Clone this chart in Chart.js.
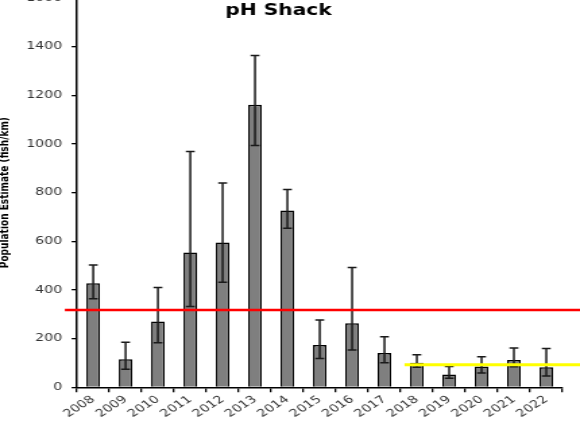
<!DOCTYPE html>
<html>
<head>
<meta charset="utf-8">
<script src="https://cdn.jsdelivr.net/npm/chart.js@4/dist/chart.umd.min.js"></script>
<style>
  html, body { margin: 0; padding: 0; background: #fff; overflow: hidden; width: 580px; height: 423px; }
  #wrap { position: absolute; left: 0; top: -20px; transform: scaleX(1.3488); transform-origin: 0 0; }
</style>
</head>
<body>
<div id="wrap"><canvas id="popChart" width="430" height="443"></canvas></div>
<script>
const years = ['2008', '2009', '2010', '2011', '2012', '2013', '2014', '2015',
               '2016', '2017', '2018', '2019', '2020', '2021', '2022'];
const estimates = [428, 115, 270, 554, 595, 1161, 727, 174, 263, 141, 101, 53, 85, 112, 82];
const upperCI  = [503, 185, 410, 969, 840, 1364, 813, 277, 492, 208, 134, 85, 126, 162, 159];
const lowerCI  = [364, 74, 183, 332, 432, 994, 654, 118, 153, 101, 82, 37, 59, 84, 46];
const yTicks = [0, 200, 400, 600, 800, 1000, 1200, 1400, 1600];
const targetLevel = 318;   // red reference line
const recentMean = 93;     // yellow line, 2018 onwards
const recentStart = '2018';

// error bars, reference lines and the title drawn on top of the bars
const overlay = {
  id: 'overlay',
  afterDatasetsDraw(chart) {
    const { ctx, chartArea } = chart;
    const x = chart.scales.x, y = chart.scales.y;
    const cat = x.width / years.length;

    ctx.save();
    ctx.strokeStyle = '#1a1a1a';
    ctx.lineWidth = 1.5;
    years.forEach((yr, i) => {
      const cx = x.getPixelForValue(i);
      const top = y.getPixelForValue(upperCI[i]);
      const bot = y.getPixelForValue(lowerCI[i]);
      ctx.beginPath();
      ctx.moveTo(cx, top); ctx.lineTo(cx, bot);
      ctx.moveTo(cx - 3.3, top); ctx.lineTo(cx + 3.3, top);
      ctx.moveTo(cx - 3.3, bot); ctx.lineTo(cx + 3.3, bot);
      ctx.stroke();
    });

    let ly = y.getPixelForValue(targetLevel);
    ctx.strokeStyle = '#ff0000';
    ctx.lineWidth = 2.5;
    ctx.beginPath();
    ctx.moveTo(chartArea.left - 9, ly);
    ctx.lineTo(chart.width, ly);
    ctx.stroke();

    ly = y.getPixelForValue(recentMean);
    const sx = x.getPixelForValue(years.indexOf(recentStart)) - cat * 0.38;
    ctx.strokeStyle = '#ffff00';
    ctx.lineWidth = 3;
    ctx.beginPath();
    ctx.moveTo(sx, ly);
    ctx.lineTo(chart.width, ly);
    ctx.stroke();

    ctx.fillStyle = '#000';
    ctx.font = 'bold 15px "DejaVu Sans"';
    ctx.textAlign = 'center';
    ctx.textBaseline = 'alphabetic';
    ctx.fillText('pH Shack', chartArea.left + chartArea.width * 0.415, 35);
    ctx.restore();
  }
};

new Chart(document.getElementById('popChart'), {
  type: 'bar',
  data: {
    labels: years,
    datasets: [{
      data: estimates,
      backgroundColor: '#7f7f7f',
      borderColor: '#000',
      borderWidth: 1.5,
      categoryPercentage: 1,
      barPercentage: 0.42
    }]
  },
  options: {
    responsive: false,
    animation: false,
    devicePixelRatio: 1,
    layout: { padding: { top: 18, right: 13, left: 0, bottom: 0 } },
    plugins: { legend: { display: false }, tooltip: { enabled: false } },
    scales: {
      x: {
        grid: { offset: true, drawOnChartArea: false, drawTicks: true, tickLength: 5, color: '#000', lineWidth: 1.3 },
        border: { color: '#000', width: 1.5 },
        ticks: {
          color: '#333',
          font: { family: '"DejaVu Sans"', size: 10.5 },
          minRotation: 40, maxRotation: 40, padding: 1, autoSkip: false
        },
        afterFit(s) { s.height = 35.7; }
      },
      y: {
        min: 0, max: 1600,
        afterBuildTicks(s) { s.ticks = yTicks.map(v => ({ value: v })); },
        grid: { drawOnChartArea: false, drawTicks: true, tickLength: 4, color: '#000', lineWidth: 1.3 },
        border: { color: '#000', width: 1.5 },
        ticks: {
          color: '#333',
          font: { family: '"DejaVu Sans"', size: 10.5 },
          padding: 7,
          callback: v => String(v)
        },
        title: {
          display: true,
          text: 'Population Estimate (fish/km)',
          color: '#000',
          font: { family: '"DejaVu Sans"', size: 9, weight: 'bold', lineHeight: 1 },
          padding: { top: -1, bottom: 0 }
        },
        afterFit(s) { s.width = 57.1; }
      }
    }
  },
  plugins: [overlay]
});
</script>
</body>
</html>
